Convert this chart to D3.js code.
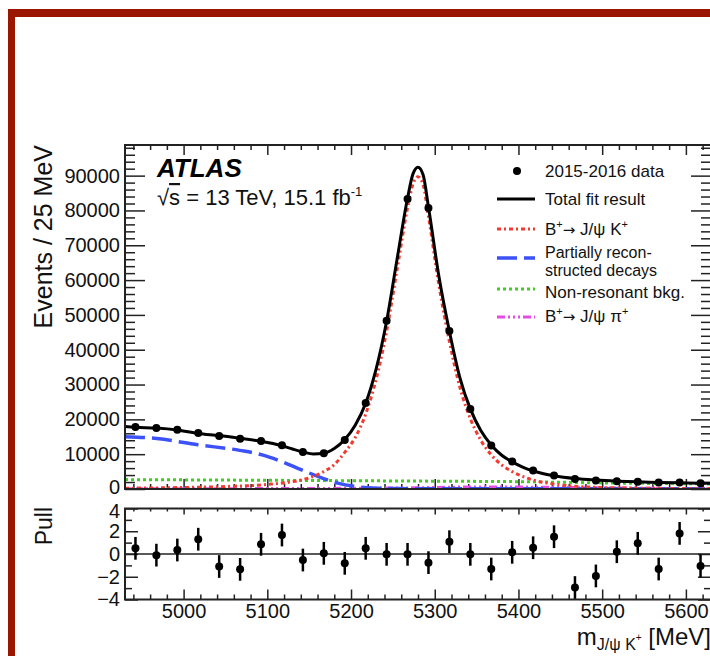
<!DOCTYPE html>
<html>
<head>
<meta charset="UTF-8">
<title>B+ -> J/psi K+ mass fit</title>
<script src="https://cdn.jsdelivr.net/npm/d3@7"></script>
<style>
  body { margin: 0; background: #fff; overflow: hidden; }
  svg { display: block; font-family: "Liberation Sans", Arial, Helvetica, sans-serif; }
</style>
</head>
<body>
<script>
// bin centres, 25 MeV bins
const binCenters = [4942.5, 4967.5, 4992.5, 5017.5, 5042.5, 5067.5, 5092.5, 5117.5, 5142.5, 5167.5,
                    5192.5, 5217.5, 5242.5, 5267.5, 5292.5, 5317.5, 5342.5, 5367.5, 5392.5, 5417.5,
                    5442.5, 5467.5, 5492.5, 5517.5, 5542.5, 5567.5, 5592.5, 5617.5];
// 2015-2016 data, events per bin
const events = [17800, 17500, 17000, 16100, 15200, 14400, 13800, 12600, 10600, 10300,
                14100, 24700, 48300, 83300, 80700, 45400, 23000, 12500, 7900, 5300,
                3900, 2850, 2450, 2260, 2090, 1850, 1860, 1640];
// pulls per bin
const pulls = [0.5, -0.1, 0.35, 1.3, -1.1, -1.35, 0.85, 1.67, -0.53, 0.06,
               -0.82, 0.5, -0.03, -0.03, -0.76, 1.08, -0.03, -1.32, 0.15, 0.55,
               1.52, -2.95, -1.93, 0.2, 0.94, -1.32, 1.81, -1.05];

// fit curves: [mass, events]
const totalFit = [[4930, 17950], [4942.5, 17730], [4967.5, 17510], [4992.5, 16950], [5017.5, 15950],
  [5042.5, 15340], [5067.5, 14560], [5092.5, 13700], [5117.5, 12420], [5130, 11500], [5142.5, 10650],
  [5155, 10050], [5167.5, 10280], [5180, 11600], [5192.5, 14200], [5205, 18300], [5217.5, 24600],
  [5230, 34500], [5242.5, 48200], [5255, 66000], [5267.5, 83500], [5274, 90500], [5280, 92400],
  [5286, 90300], [5292.5, 81000], [5305, 61000], [5317.5, 45300], [5330, 32000], [5342.5, 23000],
  [5355, 16800], [5367.5, 12650], [5380, 9700], [5392.5, 7800], [5405, 6300], [5417.5, 5200],
  [5430, 4400], [5442.5, 3800], [5467.5, 3000], [5492.5, 2550], [5517.5, 2250], [5542.5, 2050],
  [5567.5, 1900], [5592.5, 1780], [5617.5, 1680], [5630, 1640]];
const signalK = [[4930, 220], [5000, 430], [5050, 720], [5100, 1300], [5130, 2100], [5150, 3200],
  [5165, 4700], [5180, 7000], [5192.5, 10500], [5205, 14800], [5217.5, 21500], [5230, 31500],
  [5242.5, 45300], [5255, 63000], [5267.5, 80700], [5274, 87600], [5280, 89700], [5286, 87500],
  [5292.5, 78300], [5305, 58500], [5317.5, 42400], [5330, 29200], [5342.5, 20200], [5355, 14000],
  [5367.5, 9800], [5380, 6900], [5392.5, 5000], [5405, 3600], [5417.5, 2600], [5430, 1900],
  [5442.5, 1400], [5467.5, 800], [5500, 420], [5550, 230], [5630, 80]];
const partReco = [[4930, 15000], [4968, 14500], [5017, 12700], [5067, 11100], [5094, 9800],
  [5118, 7800], [5141, 5500], [5165, 3200], [5184, 1700], [5208, 650], [5232, 250], [5260, 120],
  [5300, 80], [5630, 50]];
const nonRes = [[4930, 2700], [5000, 2620], [5100, 2500], [5200, 2380], [5300, 2250], [5400, 2100],
  [5500, 1750], [5630, 1450]];
const signalPi = [[4930, 80], [5100, 120], [5200, 200], [5280, 350], [5330, 550], [5380, 600],
  [5430, 500], [5500, 320], [5560, 200], [5630, 100]];

// ticks
const yTicks = [0, 10000, 20000, 30000, 40000, 50000, 60000, 70000, 80000, 90000];
const xTicks = [5000, 5100, 5200, 5300, 5400, 5500, 5600];
const pullTicks = [-4, -2, 0, 2, 4];

const W = 710, H = 656;
const svg = d3.select("body").append("svg").attr("width", W).attr("height", H);

// red page frame
svg.append("rect").attr("x", 8).attr("y", 9).attr("width", W).attr("height", 8).attr("fill", "#9b1600");
svg.append("rect").attr("x", 8).attr("y", 9).attr("width", 7).attr("height", H).attr("fill", "#9b1600");

// scales
const x = d3.scaleLinear().domain([4930, 5630]).range([125, 711]);
const y = d3.scaleLinear().domain([0, 98800]).range([489, 145]);
const yp = d3.scaleLinear().domain([-4, 4]).range([599.5, 508.5]);

const yMinor = d3.range(0, 98001, 2000).filter(v => v % 10000 !== 0);
const xMinor = d3.range(4940, 5630, 20).filter(v => v % 100 !== 0);
const pullMinor = [-3, -1, 1, 3];

const ink = "#222";
function styleAxis(g, labels) {
  g.select(".domain").remove();
  g.selectAll(".tick line").attr("stroke", ink).attr("stroke-width", 1.5);
  g.selectAll(".tick text").attr("fill", "#111").attr("font-size", labels ? 20 : 0)
    .attr("font-family", "Liberation Sans, Arial, sans-serif");
}
function addAxis(axis, tx, ty, labels) {
  return svg.append("g").attr("transform", `translate(${tx},${ty})`).call(axis).call(g => styleAxis(g, labels));
}

// upper panel axes
const yAxisG = addAxis(d3.axisLeft(y).tickValues(yTicks).tickSize(-20).tickPadding(5).tickFormat(d3.format("d")), 125, 0, true);
// lift the "0" a little so it clears the pull panel's "4"
yAxisG.selectAll(".tick text").filter(d => d === 0).attr("dy", "0.22em");
addAxis(d3.axisLeft(y).tickValues(yMinor).tickSize(-10).tickFormat(""), 125, 0, false);
addAxis(d3.axisRight(y).tickValues(yTicks).tickSize(-20).tickFormat(""), 711, 0, false);
addAxis(d3.axisRight(y).tickValues(yMinor).tickSize(-10).tickFormat(""), 711, 0, false);
addAxis(d3.axisTop(x).tickValues(xTicks).tickSize(-10).tickFormat(""), 0, 145, false);
addAxis(d3.axisTop(x).tickValues(xMinor).tickSize(-5).tickFormat(""), 0, 145, false);
addAxis(d3.axisBottom(x).tickValues(xTicks).tickSize(-10).tickFormat(""), 0, 489, false);
addAxis(d3.axisBottom(x).tickValues(xMinor).tickSize(-5).tickFormat(""), 0, 489, false);

// pull panel axes
const pullFmt = d => d < 0 ? "\u2212" + Math.abs(d) : String(d);
const pAxisG = addAxis(d3.axisLeft(yp).tickValues(pullTicks).tickSize(-13).tickPadding(5).tickFormat(pullFmt), 125, 0, true);
pAxisG.selectAll(".tick text").filter(d => d === 4).attr("dy", "0.45em");
addAxis(d3.axisLeft(yp).tickValues(pullMinor).tickSize(-7).tickFormat(""), 125, 0, false);
addAxis(d3.axisRight(yp).tickValues(pullTicks).tickSize(-13).tickFormat(""), 711, 0, false);
addAxis(d3.axisRight(yp).tickValues(pullMinor).tickSize(-7).tickFormat(""), 711, 0, false);
addAxis(d3.axisBottom(x).tickValues(xTicks).tickSize(-10).tickPadding(4).tickFormat(d3.format("d")), 0, 599.5, true);
addAxis(d3.axisBottom(x).tickValues(xMinor).tickSize(-5).tickFormat(""), 0, 599.5, false);
addAxis(d3.axisTop(x).tickValues(xTicks).tickSize(-6).tickFormat(""), 0, 508.5, false);
addAxis(d3.axisTop(x).tickValues(xMinor).tickSize(-3).tickFormat(""), 0, 508.5, false);

// clip for curves
svg.append("clipPath").attr("id", "upclip").append("rect")
  .attr("x", 125).attr("y", 145).attr("width", 586).attr("height", 344);

const line = d3.line().x(d => x(d[0])).y(d => y(d[1])).curve(d3.curveMonotoneX);
const curves = svg.append("g").attr("clip-path", "url(#upclip)").attr("fill", "none");

const styles = {
  nonRes:   { color: "#3fcf1f", dash: "3,3", width: 3 },
  signalPi: { color: "#e44ce6", dash: "8,3,2,3,2,3,2,3", width: 3 },
  partReco: { color: "#3d52f6", dash: "20,7", width: 3.5 },
  signalK:  { color: "#f23b30", dash: "4,3,2,3", width: 3 },
  total:    { color: "#000", dash: null, width: 3 }
};
[[nonRes, styles.nonRes], [signalPi, styles.signalPi], [partReco, styles.partReco],
 [signalK, styles.signalK], [totalFit, styles.total]].forEach(([data, s]) => {
  curves.append("path").attr("d", line(data)).attr("stroke", s.color)
    .attr("stroke-width", s.width).attr("stroke-dasharray", s.dash);
});

// data points
svg.append("g").selectAll("circle").data(binCenters).join("circle")
  .attr("cx", d => x(d)).attr("cy", (d, i) => y(events[i])).attr("r", 4).attr("fill", "#000");

// pull panel
svg.append("line").attr("x1", 125).attr("x2", 711).attr("y1", yp(0)).attr("y2", yp(0))
  .attr("stroke", ink).attr("stroke-width", 1.5);
const pg = svg.append("g");
pg.selectAll("line.err").data(binCenters).join("line").attr("class", "err")
  .attr("x1", d => x(d)).attr("x2", d => x(d))
  .attr("y1", (d, i) => yp(pulls[i] - 1)).attr("y2", (d, i) => yp(pulls[i] + 1))
  .attr("stroke", "#000").attr("stroke-width", 2.5);
pg.selectAll("circle").data(binCenters).join("circle")
  .attr("cx", d => x(d)).attr("cy", (d, i) => yp(pulls[i])).attr("r", 4).attr("fill", "#000");

// panel frames
svg.append("rect").attr("x", 125).attr("y", 145).attr("width", 586).attr("height", 344)
  .attr("fill", "none").attr("stroke", ink).attr("stroke-width", 2);
svg.append("rect").attr("x", 125).attr("y", 508.5).attr("width", 586).attr("height", 91)
  .attr("fill", "none").attr("stroke", ink).attr("stroke-width", 2);

// axis titles
svg.append("text").attr("transform", "translate(52,145) rotate(-90)").attr("text-anchor", "end")
  .attr("font-size", 25).attr("fill", "#111").text("Events / 25 MeV");
svg.append("text").attr("transform", "translate(52,507) rotate(-90)").attr("text-anchor", "end")
  .attr("font-size", 23).attr("fill", "#111").text("Pull");

const xt = svg.append("text").attr("x", 711).attr("y", 645).attr("text-anchor", "end")
  .attr("font-size", 24).attr("fill", "#111");
xt.append("tspan").text("m");
xt.append("tspan").attr("font-size", 16).attr("dy", 5).text("J/\u03c8 K");
xt.append("tspan").attr("font-size", 10).attr("dy", -9).text("+");
xt.append("tspan").attr("dy", 4).text(" [MeV]");

// ATLAS label
svg.append("text").attr("x", 157).attr("y", 177).attr("font-size", 26)
  .attr("font-weight", "bold").attr("font-style", "italic").attr("fill", "#000").text("ATLAS");
const ecm = svg.append("text").attr("x", 157).attr("y", 205).attr("font-size", 22).attr("fill", "#111");
ecm.append("tspan").text("\u221a");
ecm.append("tspan").attr("text-decoration", "overline").text("s");
ecm.append("tspan").text(" = 13 TeV, 15.1 fb");
ecm.append("tspan").attr("font-size", 13).attr("dy", -9).text("-1");

// legend
const legendX = 497, legendText = 545;
const leg = svg.append("g").attr("font-size", 17).attr("fill", "#111");
leg.append("circle").attr("cx", 517).attr("cy", 171).attr("r", 4).attr("fill", "#000");
leg.append("text").attr("x", legendText).attr("y", 177).text("2015-2016 data");

const legendRows = [
  { key: "total", y: 199 },
  { key: "signalK", y: 229 },
  { key: "partReco", y: 258 },
  { key: "nonRes", y: 289 },
  { key: "signalPi", y: 317 }
];
legendRows.forEach(r => {
  const s = styles[r.key];
  leg.append("line").attr("x1", legendX).attr("x2", legendX + 38).attr("y1", r.y).attr("y2", r.y)
    .attr("stroke", s.color).attr("stroke-width", s.width).attr("stroke-dasharray", s.dash);
});

leg.append("text").attr("x", legendText).attr("y", 205).text("Total fit result");
function decayLabel(yy, last) {
  const t = leg.append("text").attr("x", legendText).attr("y", yy);
  t.append("tspan").text("B");
  t.append("tspan").attr("font-size", 11).attr("dy", -7).text("+");
  t.append("tspan").attr("dy", 7).attr("font-family", "DejaVu Sans").attr("font-size", 15).text("\u2192");
  t.append("tspan").text(" J/\u03c8 " + last);
  t.append("tspan").attr("font-size", 11).attr("dy", -7).text("+");
}
decayLabel(235, "K");
leg.append("text").attr("x", legendText).attr("y", 258).attr("font-size", 16).text("Partially recon-");
leg.append("text").attr("x", legendText).attr("y", 276).attr("font-size", 16).text("structed decays");
leg.append("text").attr("x", legendText).attr("y", 298).text("Non-resonant bkg.");
decayLabel(322, "\u03c0");
</script>
</body>
</html>
